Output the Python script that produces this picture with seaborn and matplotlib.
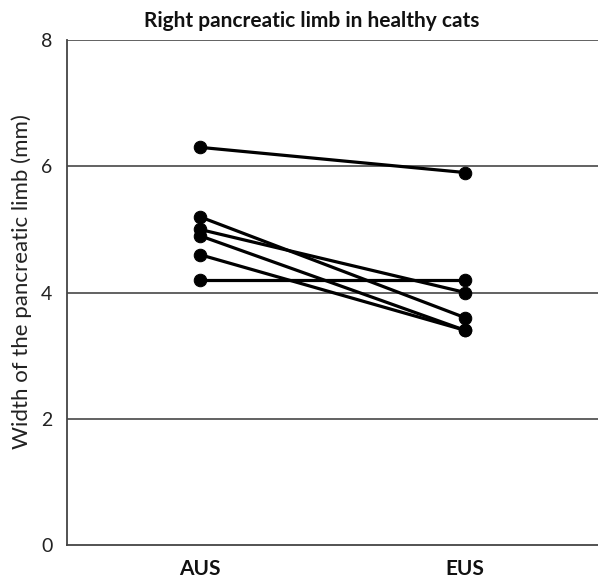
import numpy as np
import pandas as pd
import matplotlib
matplotlib.use("Agg")
import matplotlib.pyplot as plt
import seaborn as sns

methods = ["AUS", "EUS"]
aus_values = [6.3, 5.2, 5.0, 4.9, 4.6, 4.2]
eus_values = [5.9, 3.6, 4.0, 3.4, 3.4, 4.2]
cat_ids = [1, 2, 3, 4, 5, 6]
y_ticks = [0, 2, 4, 6, 8]
title = "Right pancreatic limb in healthy cats"
ylabel = "Width of the pancreatic limb (mm)"

df = pd.DataFrame({
    "cat": cat_ids * 2,
    "method": [methods[0]] * len(aus_values) + [methods[1]] * len(eus_values),
    "width": aus_values + eus_values,
})
df["pos"] = df["method"].map({m: i for i, m in enumerate(methods)})

sns.set_style("white")
plt.rcParams["font.family"] = ["Lato", "DejaVu Sans"]

fig = plt.figure(figsize=(5.98, 5.84), dpi=100)
ax = fig.add_axes([67 / 598, 1 - 545 / 584, 1 - 67 / 598, (545 - 40) / 584])

sns.lineplot(data=df, x="pos", y="width", units="cat", estimator=None,
             color="black", linewidth=2.3, marker="o", markersize=9,
             markeredgecolor="black", ax=ax, legend=False, zorder=3)

ax.set_xlim(-0.5, 1.5)
ax.set_ylim(0, 8)
ax.set_yticks(y_ticks)
ax.set_yticklabels([str(t) for t in y_ticks], fontsize=14, color="#222222")
ax.set_xticks([0, 1])
ax.set_xticklabels(methods, fontsize=15, fontweight="bold", color="#111111")
ax.set_xticks([-0.5, 0.5, 1.5], minor=True)
ax.tick_params(axis="x", which="major", length=0, pad=10)
ax.tick_params(axis="x", which="minor", length=7, width=1.2, direction="out", color="#444444")
ax.tick_params(axis="y", which="major", length=9, width=1.2, direction="inout", color="#444444", pad=6)

for t in y_ticks[1:]:
    ax.axhline(t, color="#555555", linewidth=1.3, zorder=1)

for s in ["top", "right"]:
    ax.spines[s].set_visible(False)
for s in ["left", "bottom"]:
    ax.spines[s].set_color("#444444")
    ax.spines[s].set_linewidth(1.3)

ax.set_xlabel("")
ax.set_ylabel(ylabel, fontsize=16, color="#222222")
ax.yaxis.set_label_coords(-(67 - 32) / 531, (545 - 282) / 505)
fig.text(312 / 598, 1 - 21 / 584, title, ha="center", va="center",
         fontsize=15, fontweight="bold", color="#111111")

fig.savefig("out.png", dpi=100)
